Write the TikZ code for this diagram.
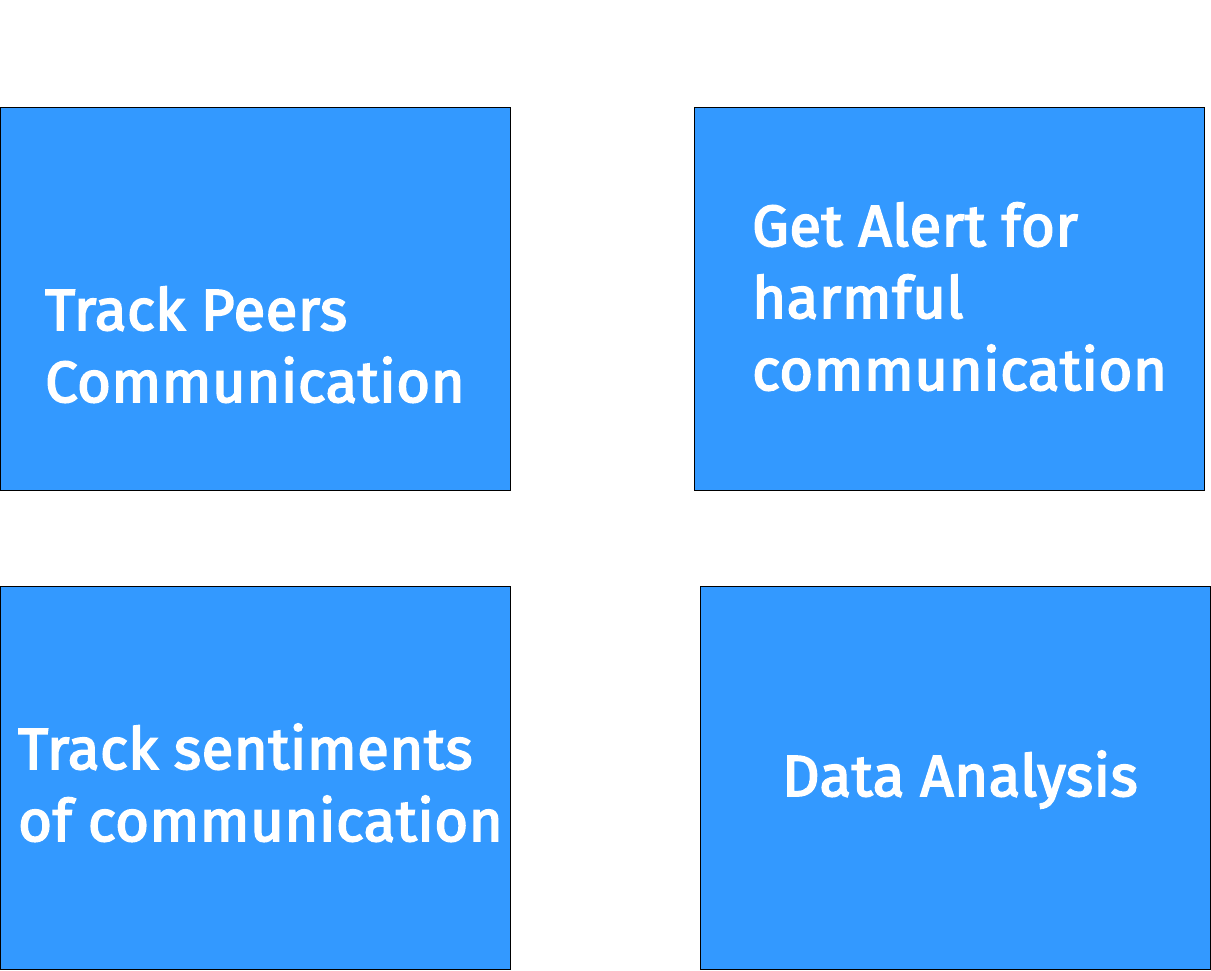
\documentclass[tikz,border=0pt]{standalone}
\usepackage{fontspec}
\setmainfont{Fira Sans}[FakeBold=3, LetterSpace=1]
\usepackage{tikz}
\usetikzlibrary{positioning}

\definecolor{cardblue}{HTML}{3399FF}

\begin{document}
\begin{tikzpicture}[x=1pt, y=-1pt,
    card/.style={draw=black, line width=1pt, fill=cardblue, rectangle, minimum width=510pt, minimum height=383pt, inner sep=0pt},
    cardtext/.style={text=white, align=left, inner sep=0pt, font=\fontsize{58}{72}\selectfont}]

    \useasboundingbox (0,0) rectangle (1211,970);

    \node[card] (peers) at (255,298.5) {};
    \node[card] (alert) at (949,298.5) {};
    \node[card] (sentiments) at (255,777.5) {};
    \node[card] (analysis) at (955,777.5) {};

    \node[cardtext, anchor=base west] (peerstext) at (45,402) {Track Peers\\Communication};
    \node[cardtext, anchor=base west] (alerttext) at (752,390) {Get Alert for\\harmful\\communication};
    \node[cardtext, anchor=base west] (sentimentstext) at (18,841) {Track sentiments\\of communication};
    \node[cardtext, anchor=base] (analysistext) at (960,796) {Data Analysis};
\end{tikzpicture}
\end{document}
